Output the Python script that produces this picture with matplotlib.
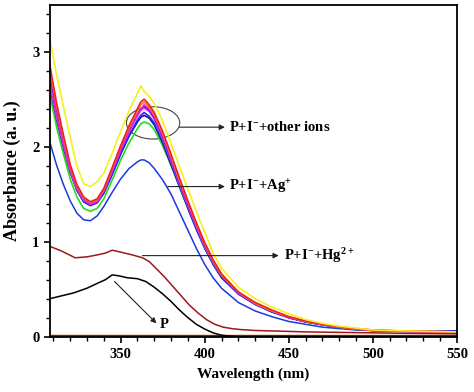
import numpy as np
import matplotlib
matplotlib.use("Agg")
import matplotlib.pyplot as plt
from matplotlib.patches import Ellipse
from matplotlib.ticker import MultipleLocator

plt.rcParams["font.family"] = ["Liberation Serif", "DejaVu Serif"]
plt.rcParams["font.weight"] = "bold"
plt.rcParams["mathtext.fontset"] = "custom"
plt.rcParams["mathtext.rm"] = "Liberation Serif:bold"
plt.rcParams["mathtext.default"] = "rm"

# ── Data ──────────────────────────────────────────────────────────────────────
wl = [308, 312, 316, 320, 324, 328, 332, 336, 340, 345, 350, 355, 360, 362,
      364, 367, 370, 375, 380, 385, 390, 395, 400, 405, 410, 420, 430, 440,
      450, 460, 470, 480, 490, 500, 520, 550]

# P + I- + other ions (cluster)
ion_yellow = [3.12, 2.75, 2.42, 2.10, 1.80, 1.61, 1.58, 1.63, 1.72, 1.93, 2.16, 2.38,
              2.56, 2.64, 2.58, 2.53, 2.45, 2.27, 2.03, 1.79, 1.55, 1.32, 1.10, 0.88,
              0.72, 0.52, 0.40, 0.31, 0.24, 0.18, 0.14, 0.11, 0.09, 0.07, 0.06, 0.05]
ion_red = [2.85, 2.45, 2.12, 1.81, 1.60, 1.47, 1.42, 1.45, 1.56, 1.78, 2.01, 2.22,
           2.40, 2.47, 2.50, 2.44, 2.36, 2.16, 1.92, 1.67, 1.43, 1.20, 0.99, 0.81,
           0.66, 0.47, 0.36, 0.28, 0.21, 0.165, 0.13, 0.105, 0.085, 0.07, 0.058, 0.05]
ion_orange = [2.80, 2.42, 2.10, 1.80, 1.59, 1.46, 1.41, 1.44, 1.55, 1.77, 2.00, 2.20,
              2.38, 2.44, 2.47, 2.42, 2.34, 2.14, 1.90, 1.65, 1.42, 1.19, 0.98, 0.80,
              0.65, 0.47, 0.35, 0.27, 0.21, 0.16, 0.13, 0.10, 0.08, 0.07, 0.056, 0.05]
ion_magenta = [2.67, 2.32, 2.03, 1.75, 1.56, 1.44, 1.39, 1.42, 1.53, 1.74, 1.96, 2.16,
               2.33, 2.39, 2.44, 2.40, 2.32, 2.12, 1.88, 1.64, 1.41, 1.18, 0.97, 0.80,
               0.65, 0.46, 0.35, 0.27, 0.20, 0.16, 0.13, 0.10, 0.08, 0.065, 0.055, 0.05]
ion_purple = [2.72, 2.36, 2.06, 1.77, 1.57, 1.45, 1.40, 1.43, 1.54, 1.75, 1.97, 2.17,
              2.34, 2.40, 2.42, 2.38, 2.30, 2.10, 1.86, 1.62, 1.39, 1.17, 0.96, 0.79,
              0.64, 0.46, 0.35, 0.27, 0.20, 0.16, 0.13, 0.10, 0.08, 0.065, 0.055, 0.05]
ion_pink = [2.65, 2.31, 2.02, 1.75, 1.56, 1.44, 1.40, 1.43, 1.54, 1.75, 1.97, 2.16,
            2.32, 2.38, 2.40, 2.37, 2.29, 2.09, 1.85, 1.61, 1.38, 1.16, 0.95, 0.78,
            0.64, 0.46, 0.35, 0.27, 0.20, 0.16, 0.13, 0.10, 0.08, 0.065, 0.055, 0.05]
ion_blue = [2.78, 2.38, 2.05, 1.76, 1.55, 1.42, 1.38, 1.41, 1.51, 1.71, 1.93, 2.12,
            2.28, 2.33, 2.36, 2.32, 2.25, 2.06, 1.83, 1.59, 1.36, 1.14, 0.94, 0.77,
            0.63, 0.45, 0.34, 0.26, 0.20, 0.155, 0.125, 0.10, 0.08, 0.065, 0.058, 0.055]
ion_navy = [2.62, 2.28, 1.99, 1.73, 1.54, 1.42, 1.38, 1.41, 1.51, 1.71, 1.92, 2.11,
            2.26, 2.31, 2.33, 2.30, 2.23, 2.04, 1.81, 1.58, 1.35, 1.13, 0.93, 0.76,
            0.62, 0.45, 0.34, 0.26, 0.20, 0.155, 0.125, 0.10, 0.08, 0.065, 0.058, 0.055]
ion_green = [2.54, 2.20, 1.92, 1.66, 1.47, 1.35, 1.32, 1.35, 1.45, 1.65, 1.86, 2.04,
             2.19, 2.24, 2.26, 2.24, 2.18, 2.01, 1.80, 1.58, 1.36, 1.15, 0.95, 0.78,
             0.64, 0.46, 0.35, 0.27, 0.20, 0.16, 0.13, 0.10, 0.08, 0.065, 0.055, 0.05]

# P + I- + Ag+
ag = [2.04, 1.80, 1.60, 1.43, 1.30, 1.23, 1.22, 1.27, 1.37, 1.52, 1.66, 1.77,
      1.84, 1.86, 1.86, 1.83, 1.77, 1.65, 1.50, 1.31, 1.12, 0.93, 0.76, 0.62,
      0.51, 0.36, 0.27, 0.21, 0.16, 0.13, 0.10, 0.085, 0.07, 0.065, 0.06, 0.06]

# P + I- + Hg2+
hg_wl = [308, 315, 323, 330, 336, 341, 345, 350, 357, 363, 367, 371, 376, 381,
         386, 391, 396, 401, 406, 411, 416, 421, 430, 440, 460, 480, 500, 520, 550]
hg = [0.95, 0.90, 0.83, 0.84, 0.86, 0.88, 0.91, 0.89, 0.86, 0.83, 0.79, 0.72,
      0.63, 0.53, 0.43, 0.33, 0.25, 0.18, 0.13, 0.10, 0.085, 0.075, 0.065, 0.06,
      0.05, 0.045, 0.04, 0.035, 0.03]

# P
p_wl = [308, 315, 322, 330, 336, 341, 345, 349, 354, 360, 365, 370, 375, 380,
        385, 390, 395, 400, 405, 410, 415, 420, 550]
p = [0.40, 0.43, 0.46, 0.51, 0.56, 0.60, 0.65, 0.64, 0.62, 0.61, 0.58, 0.52,
     0.45, 0.37, 0.28, 0.20, 0.13, 0.08, 0.04, 0.015, 0.005, 0.0, 0.0]

# baselines along zero
base_wl = [308, 550]
base_orange = [0.012, 0.012]
base_red = [0.004, 0.004]

cluster = [(ion_green, "#22dd22"), (ion_navy, "#10108a"), (ion_blue, "#2a2aff"),
           (ion_pink, "#ff66dd"), (ion_purple, "#7a10c8"), (ion_magenta, "#e020e0"),
           (ion_orange, "#ff7a1a"), (ion_red, "#ee2020"), (ion_yellow, "#f5f020")]

# ── Figure ────────────────────────────────────────────────────────────────────
fig = plt.figure(figsize=(4.74, 3.92), dpi=100)
ax = fig.add_axes([0.1055, 0.140, 0.8585, 0.847])

ax.plot(base_wl, base_orange, color="#e8a010", lw=1.6)
ax.plot(base_wl, base_red, color="#9a1010", lw=1.6)
ax.plot(p_wl, p, color="black", lw=1.1)
ax.plot(hg_wl, hg, color="#9a1a1a", lw=1.1)
ax.plot(wl, ag, color="#1a3ae0", lw=1.1)
for vals, c in cluster:
    ax.plot(wl, vals, color=c, lw=1.2)

ax.set_xlim(308, 550)
ax.set_ylim(-0.005, 3.49)
ax.xaxis.set_major_locator(MultipleLocator(50))
ax.xaxis.set_minor_locator(MultipleLocator(10))
ax.yaxis.set_major_locator(MultipleLocator(1))
ax.yaxis.set_minor_locator(MultipleLocator(0.2))
ax.tick_params(which="major", direction="out", length=4, width=1.2,
               labelsize=10.5, top=False, right=False)
ax.tick_params(which="minor", direction="out", length=3, width=1.0,
               top=False, right=False)
for s in ax.spines.values():
    s.set_linewidth(1.3)

ax.set_xlabel("Wavelength (nm)", fontsize=11, fontweight="bold", labelpad=5)
ax.set_ylabel("Absorbance (a. u.)", fontsize=13, fontweight="bold", labelpad=8)

# annotations
ax.add_patch(Ellipse((369.3, 2.25), 31.7, 0.34, fill=False,
                     edgecolor="#444444", lw=0.8))
arr = dict(arrowstyle="-|>", color="#222222", lw=0.8, mutation_scale=8,
           shrinkA=0, shrinkB=0)
ax.annotate("", xy=(412, 2.205), xytext=(385, 2.205), arrowprops=arr)
ax.text(414.5, 2.205, "P+I$^{-}$+other ions", fontsize=10.5, va="center")
ax.annotate("", xy=(412, 1.58), xytext=(378, 1.58), arrowprops=arr)
ax.text(414.5, 1.58, "P+I$^{-}$+Ag$^{+}$", fontsize=10.5, va="center")
ax.annotate("", xy=(444, 0.853), xytext=(363, 0.853), arrowprops=arr)
ax.text(447, 0.853, "P+I$^{-}$+Hg$^{2+}$", fontsize=10.5, va="center")
ax.annotate("", xy=(371.3, 0.14), xytext=(346.4, 0.58), arrowprops=arr)
ax.text(373, 0.13, "P", fontsize=10.5, va="center")

fig.savefig("out.png", dpi=100)
